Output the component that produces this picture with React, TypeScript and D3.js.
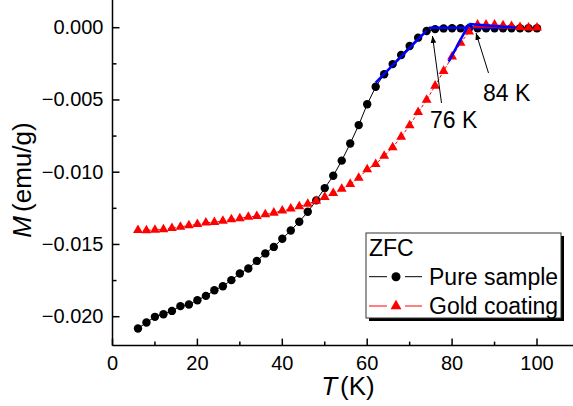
import React from "react";
import * as d3 from "d3";

const temps = [6, 8, 10, 12, 14, 16, 18, 20, 22, 24, 26, 28, 30, 32, 34, 36, 38, 40, 42, 44, 46, 48, 50, 52, 54, 56, 58, 60, 62, 64, 66, 68, 70, 72, 74, 76, 78, 80, 82, 84, 86, 88, 90, 92, 94, 96, 98, 100];

const pureSample = [-0.02082, -0.0204, -0.02001, -0.01983, -0.0196, -0.01927, -0.01916, -0.01886, -0.01856, -0.01817, -0.01789, -0.01747, -0.01701, -0.01666, -0.01614, -0.01562, -0.01517, -0.01461, -0.01403, -0.01343, -0.01274, -0.01195, -0.0111, -0.01025, -0.0092, -0.00801, -0.00674, -0.0053, -0.00409, -0.00322, -0.00252, -0.00189, -0.00127, -0.00069, -0.00023, -0.0001, -0.00005, -0.00004, -0.00004, -0.00004, -0.00004, -0.00004, -0.00004, -0.00004, -0.00004, -0.00004, -0.00004, -0.00004];

const goldCoating = [-0.01401, -0.01403, -0.01399, -0.01396, -0.01387, -0.01378, -0.01369, -0.0136, -0.0135, -0.01346, -0.01337, -0.01327, -0.0132, -0.01309, -0.01304, -0.01292, -0.01281, -0.01267, -0.01253, -0.01237, -0.01219, -0.01198, -0.01172, -0.01145, -0.01116, -0.01082, -0.0104, -0.00981, -0.00944, -0.00888, -0.00829, -0.00755, -0.00676, -0.00585, -0.005, -0.00402, -0.003, -0.00201, -0.00106, -0.00028, 0.0002, 0.0002, 0.0002, 0.00015, 0.0001, 0.00003, 0.0, 0.0];

// Fitted (blue) line segments: [T, M] pairs
const fitPureRise = [[62, -0.0038], [74, -0.0002]];
const fitBaseline = [[74.5, 0.0], [95, 0.0]];
const fitGoldRise = [[79.2, -0.00235], [84, 0.00026]];
const fitGoldTop = [[84, 0.00026], [95, 0.0]];

const xMajorTicks = [0, 20, 40, 60, 80, 100];
const xMinorTicks = [10, 30, 50, 70, 90];
const yMajorTicks = [0, -0.005, -0.01, -0.015, -0.02];
const yMinorTicks = [-0.0025, -0.0075, -0.0125, -0.0175];

const annotations = [
  { label: "76 K", tx: 430, ty: 127.5, from: [441.5, 103], to: [432.5, 36] },
  { label: "84 K", tx: 483, ty: 100.5, from: [488.5, 73], to: [476, 33] },
];

const legendTitle = "ZFC";
const legendItems = [
  { label: "Pure sample", kind: "circle", color: "#000000" },
  { label: "Gold coating", kind: "triangle", color: "#ff0000" },
];

export default function App() {
  const W = 573;
  const H = 406;
  const x = d3.scaleLinear().domain([0, 100]).range([112.5, 537]);
  const y = d3.scaleLinear().domain([-0.02, 0]).range([316.7, 27.7]);
  const axisX = 112.5;
  const axisY = y(-0.022);
  const font = "'Liberation Sans', Arial, Helvetica, sans-serif";

  const line = d3
    .line<[number, number]>()
    .x((d) => x(d[0]))
    .y((d) => y(d[1]));

  const pureData: [number, number][] = temps.map((t, i) => [t, pureSample[i]]);
  const goldData: [number, number][] = temps.map((t, i) => [t, goldCoating[i]]);
  const tri = d3.symbol().type(d3.symbolTriangle).size(42)();
  const triLegend = d3.symbol().type(d3.symbolTriangle).size(52)();

  const fmt = d3.format(".3f");
  const fmtY = (v: number) => (Math.abs(v) < 1e-12 ? "0.000" : fmt(v));

  const blue = "#0000ff";

  const legend = { x: 366, y: 233, w: 195, h: 85 };

  return (
    <svg
      width={W}
      height={H}
      style={{ position: "absolute", left: 0, top: 0, background: "#fff" }}
      fontFamily={font}
    >
      <defs>
        <marker id="arrow" viewBox="0 0 10 10" refX="10" refY="5" markerWidth="7" markerHeight="7" orient="auto" markerUnits="userSpaceOnUse">
          <path d="M0,1 L10,5 L0,9 z" fill="#000" />
        </marker>
      </defs>
      <rect x={0} y={0} width={W} height={H} fill="#fff" />

      {/* data lines */}
      <path d={line(pureData) || ""} fill="none" stroke="#000" strokeWidth={1} />
      <path d={line(goldData) || ""} fill="none" stroke="#ff0000" strokeWidth={1} strokeDasharray="3,2" />

      {/* pure sample circles */}
      {pureData.map((d, i) => (
        <circle key={"c" + i} cx={x(d[0])} cy={y(d[1])} r={4.2} fill="#000" />
      ))}

      {/* blue fit for pure */}
      {[fitPureRise, fitBaseline].map((seg, i) => (
        <path key={"fb" + i} d={line(seg as [number, number][]) || ""} stroke={blue} strokeWidth={2.5} fill="none" />
      ))}

      {/* gold coating triangles */}
      {goldData.map((d, i) => (
        <path key={"t" + i} d={tri || ""} transform={`translate(${x(d[0])},${y(d[1])})`} fill="#ff0000" />
      ))}

      {/* blue fit for gold */}
      {[fitGoldRise, fitGoldTop].map((seg, i) => (
        <path key={"fg" + i} d={line(seg as [number, number][]) || ""} stroke={blue} strokeWidth={2.5} fill="none" />
      ))}

      {/* annotations */}
      {annotations.map((a, i) => (
        <g key={"a" + i}>
          <line x1={a.from[0]} y1={a.from[1]} x2={a.to[0]} y2={a.to[1]} stroke="#000" strokeWidth={1} markerEnd="url(#arrow)" />
          <text x={a.tx} y={a.ty} fontSize={23} fill="#000">{a.label}</text>
        </g>
      ))}

      {/* axes */}
      <line x1={axisX} y1={0} x2={axisX} y2={axisY} stroke="#000" strokeWidth={1.5} />
      <line x1={axisX} y1={axisY} x2={W} y2={axisY} stroke="#000" strokeWidth={1.5} />

      {xMajorTicks.map((t) => (
        <g key={"xm" + t}>
          <line x1={x(t)} x2={x(t)} y1={axisY} y2={axisY - 7} stroke="#000" strokeWidth={1.5} />
          <text x={x(t)} y={369.5} fontSize={20} textAnchor="middle" fill="#000">{t}</text>
        </g>
      ))}
      {xMinorTicks.map((t) => (
        <line key={"xn" + t} x1={x(t)} x2={x(t)} y1={axisY} y2={axisY - 4} stroke="#000" strokeWidth={1.5} />
      ))}
      {yMajorTicks.map((t) => (
        <g key={"ym" + t}>
          <line x1={axisX} x2={axisX + 7} y1={y(t)} y2={y(t)} stroke="#000" strokeWidth={1.5} />
          <text x={103.5} y={y(t)} dy="0.32em" fontSize={20} textAnchor="end" fill="#000">{fmtY(t)}</text>
        </g>
      ))}
      {yMinorTicks.map((t) => (
        <line key={"yn" + t} x1={axisX} x2={axisX + 4} y1={y(t)} y2={y(t)} stroke="#000" strokeWidth={1.5} />
      ))}

      {/* axis titles */}
      <text x={348} y={395} fontSize={26} textAnchor="middle" fill="#000">
        <tspan fontStyle="italic">T</tspan>
        <tspan dx={3}>(K)</tspan>
      </text>
      <text transform="translate(31,180) rotate(-90)" fontSize={26} textAnchor="middle" fill="#000">
        <tspan fontStyle="italic">M</tspan>
        <tspan dx={4}>(emu/g)</tspan>
      </text>

      {/* legend */}
      <rect x={legend.x + 3} y={legend.y + 3} width={legend.w} height={legend.h} fill="#000" />
      <rect x={legend.x} y={legend.y} width={legend.w} height={legend.h} fill="#fff" stroke="#333" strokeWidth={1} />
      <text x={369} y={256} fontSize={23} fill="#000">{legendTitle}</text>
      {legendItems.map((it, i) => {
        const cy = 276.7 + i * 29.3;
        return (
          <g key={"l" + i}>
            <line x1={369} x2={387} y1={cy} y2={cy} stroke={it.color} strokeWidth={1} />
            <line x1={405} x2={422} y1={cy} y2={cy} stroke={it.color} strokeWidth={1} />
            {it.kind === "circle" ? (
              <circle cx={396} cy={cy} r={4.5} fill={it.color} />
            ) : (
              <path d={triLegend || ""} transform={`translate(396,${cy})`} fill={it.color} />
            )}
            <text x={429} y={cy + 8.3} fontSize={23} fill="#000">{it.label}</text>
          </g>
        );
      })}
    </svg>
  );
}
